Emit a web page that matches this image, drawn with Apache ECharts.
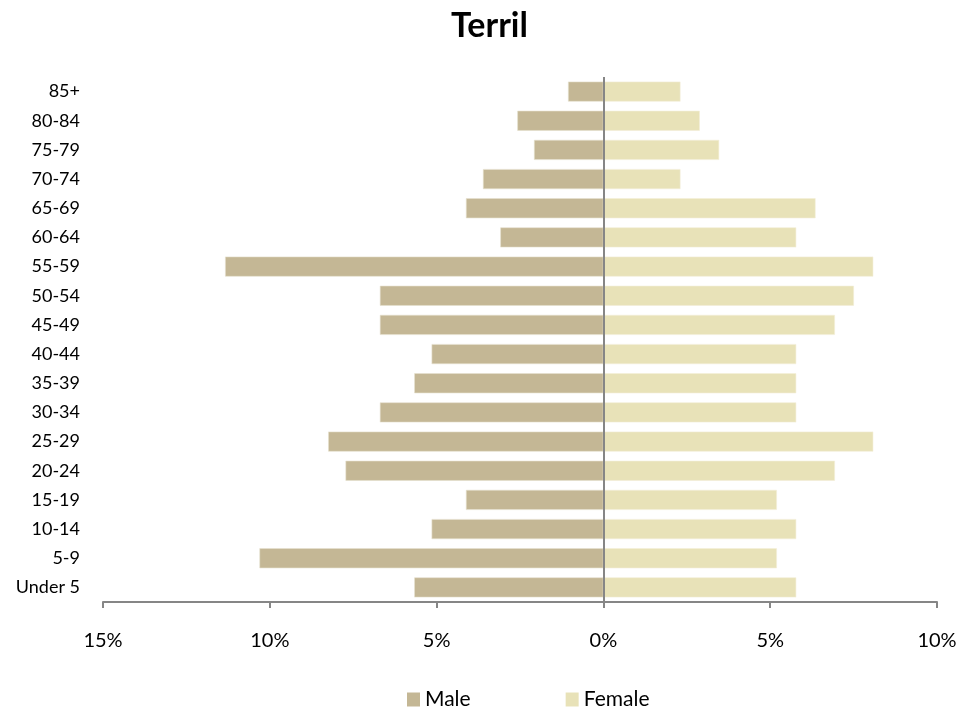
<!DOCTYPE html>
<html>
<head>
<meta charset="utf-8">
<script src="https://cdn.jsdelivr.net/npm/echarts@6/dist/echarts.min.js"></script>
<style>html,body{margin:0;padding:0;background:#fff}#c{width:979px;height:713px}</style>
</head>
<body>
<div id="c"></div>
<script>
var categories = ["Under 5","5-9","10-14","15-19","20-24","25-29","30-34","35-39","40-44","45-49","50-54","55-59","60-64","65-69","70-74","75-79","80-84","85+"];
var maleValues = [5.67,10.31,5.15,4.12,7.73,8.25,6.70,5.67,5.15,6.70,6.70,11.34,3.09,4.12,3.61,2.08,2.58,1.06];
var femaleValues = [5.78,5.20,5.78,5.20,6.94,8.09,5.78,5.78,5.78,6.94,7.51,8.09,5.78,6.36,2.31,3.47,2.89,2.31];
var xTicks = [-15,-10,-5,0,5,10];

var FONT = 'Lato, "Noto Sans", sans-serif';
var chart = echarts.init(document.getElementById('c'), null, {renderer:'canvas'});
chart.setOption({
  animation:false,
  backgroundColor:'#ffffff',
  title:{text:'Terril',left:'center',top:4,textStyle:{fontFamily:FONT,fontSize:34,fontWeight:'bold',color:'#000'}},
  legend:{left:402,top:684,itemWidth:13,itemHeight:14,itemGap:95,icon:'rect',
    itemStyle:{borderWidth:0},
    textStyle:{fontFamily:FONT,fontSize:21,color:'#000'},
    data:['Male','Female']},
  grid:{left:103,right:42,top:77,bottom:111,containLabel:false},
  xAxis:{type:'value',min:xTicks[0],max:xTicks[xTicks.length-1],interval:5,
    axisLine:{show:true,lineStyle:{color:'#868686',width:2}},
    axisTick:{show:true,length:6,lineStyle:{color:'#868686',width:2}},
    splitLine:{show:false},
    axisLabel:{margin:29,fontFamily:FONT,fontSize:20,color:'#000',formatter:function(v){return Math.abs(v)+'%';}}},
  yAxis:{type:'category',data:categories,
    axisLine:{show:false},axisTick:{show:false},
    axisLabel:{margin:23,fontFamily:FONT,fontSize:18,color:'#000'}},
  series:[
    {name:'Male',type:'bar',stack:'pop',barWidth:20,
      itemStyle:{color:'#C4B795',borderColor:'#E6E0CF',borderWidth:0.6},
      data:maleValues.map(function(v){return -v;})},
    {name:'Female',type:'bar',stack:'pop',barWidth:20,
      itemStyle:{color:'#E8E2B8',borderColor:'#F3EFD8',borderWidth:0.6},
      data:femaleValues,
      markLine:{silent:true,symbol:['none','none'],label:{show:false},
        lineStyle:{color:'#868686',width:2,type:'solid'},
        data:[{xAxis:0}]}}
  ]
});
</script>
</body>
</html>
